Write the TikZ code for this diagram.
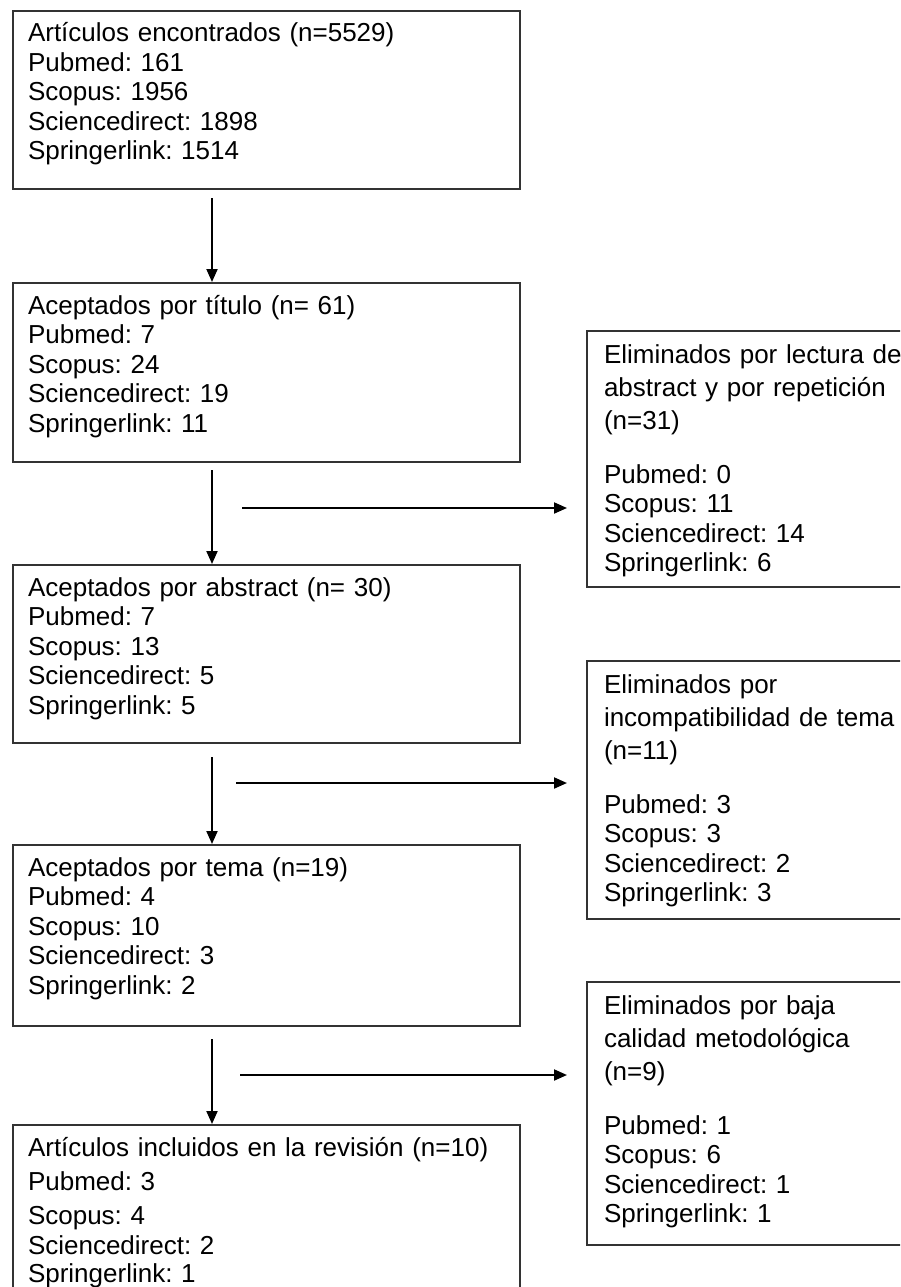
\documentclass[tikz,border=0pt]{standalone}
\usepackage{fontspec}
\setmainfont{Liberation Sans}
\usepackage{tikz}
\usetikzlibrary{arrows.meta}
\frenchspacing

\tikzset{
  caja/.style={draw=black!80, line width=2pt, anchor=north west, align=left,
    inner ysep=0pt, font=\fontsize{26}{29.5}\selectfont},
  izq/.style={caja, text width=477pt, inner xsep=15pt, text height=31pt},
  der/.style={caja, text width=310pt, inner xsep=17pt, text height=32pt},
  flecha/.style={->, line width=2pt}
}

\begin{document}
\begin{tikzpicture}[>={Triangle[length=13pt,width=11pt]}, x=1pt, y=-1pt]
    \useasboundingbox (0,0) rectangle (900,1287);
    \clip (0,0) rectangle (900,1287);

    % 左列方框
    \node[izq, text depth=147pt] (encontrados) at (12,10)
      {Artículos encontrados (n=5529)\\ Pubmed: 161\\ Scopus: 1956\\ Sciencedirect: 1898\\ Springerlink: 1514};
    \node[izq, text depth=148pt] (portitulo) at (12,282)
      {Aceptados por título (n= 61)\\ Pubmed: 7\\ Scopus: 24\\ Sciencedirect: 19\\ Springerlink: 11};
    \node[izq, text depth=147pt] (porabstract) at (12,564)
      {Aceptados por abstract (n= 30)\\ Pubmed: 7\\ Scopus: 13\\ Sciencedirect: 5\\ Springerlink: 5};
    \node[izq, text depth=150pt] (portema) at (12,844)
      {Aceptados por tema (n=19)\\ Pubmed: 4\\ Scopus: 10\\ Sciencedirect: 3\\ Springerlink: 2};
    \node[izq, text depth=170pt] (incluidos) at (12,1124)
      {Artículos incluidos en la revisión (n=10)\\[4.5pt] Pubmed: 3\\[4.5pt] Scopus: 4\\[0.5pt] Sciencedirect: 2\\[-1.5pt] Springerlink: 1};

    % 右列方框
    \node[der, text depth=224pt] (elimabstract) at (586,330)
      {Eliminados por lectura de\\[3.5pt] abstract y por repetición\\[3.5pt] (n=31)\\[24.5pt] Pubmed: 0\\ Scopus: 11\\ Sciencedirect: 14\\ Springerlink: 6};
    \node[der, text depth=226pt] (elimtema) at (586,660)
      {Eliminados por\\[3.5pt] incompatibilidad de tema\\[3.5pt] (n=11)\\[24.5pt] Pubmed: 3\\ Scopus: 3\\ Sciencedirect: 2\\ Springerlink: 3};
    \node[der, text depth=231pt] (elimcalidad) at (586,981)
      {Eliminados por baja\\[3.5pt] calidad metodológica\\[3.5pt] (n=9)\\[24.5pt] Pubmed: 1\\ Scopus: 6\\ Sciencedirect: 1\\ Springerlink: 1};

    % 竖直箭头
    \coordinate (eje) at (212,0);
    \draw[flecha, shorten <=8pt] (encontrados.south -| eje) -- (portitulo.north -| eje);
    \draw[flecha, shorten <=7pt] (portitulo.south -| eje) -- (porabstract.north -| eje);
    \draw[flecha, shorten <=13pt] (porabstract.south -| eje) -- (portema.north -| eje);
    \draw[flecha, shorten <=12pt] (portema.south -| eje) -- (incluidos.north -| eje);

    % 水平箭头
    \coordinate (hA) at (242,508);
    \coordinate (hB) at (236,783);
    \coordinate (hC) at (240,1075);
    \draw[flecha, shorten >=19pt] (hA) -- (hA -| elimabstract.west);
    \draw[flecha, shorten >=19pt] (hB) -- (hB -| elimtema.west);
    \draw[flecha, shorten >=19pt] (hC) -- (hC -| elimcalidad.west);
\end{tikzpicture}
\end{document}
